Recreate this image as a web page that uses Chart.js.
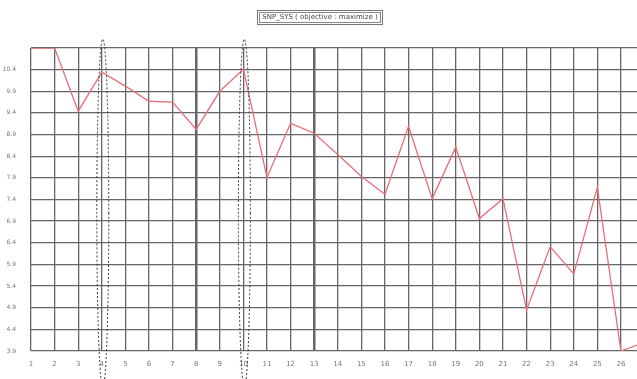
<!DOCTYPE html>
<html>
<head>
<meta charset="utf-8">
<script src="https://cdn.jsdelivr.net/npm/chart.js@4"></script>
<style>
  html, body { margin: 0; padding: 0; background: #fff; overflow: hidden; }
  #wrap { position: relative; width: 637px; height: 379px; }
</style>
</head>
<body>
<div id="wrap"><canvas id="snpChart"></canvas></div>
<script>
// runs 1..27 (27 is cut off at the right edge of the plot)
var categories = [1, 2, 3, 4, 5, 6, 7, 8, 9, 10, 11, 12, 13, 14, 15, 16, 17, 18, 19, 20, 21, 22, 23, 24, 25, 26, 27]
var snpValues = [10.9, 10.9, 9.44, 10.34, 10.02, 9.67, 9.65, 9.02, 9.9, 10.41, 7.91, 9.16, 8.93, 8.44, 7.93, 7.52, 9.09, 7.42, 8.61, 6.96, 7.42, 4.85, 6.31, 5.68, 7.68, 3.9, 4.1]
var yTicks = [3.9, 4.4, 4.9, 5.4, 5.9, 6.4, 6.9, 7.4, 7.9, 8.4, 8.9, 9.4, 9.9, 10.4, 10.9]
var xTicks = [1, 2, 3, 4, 5, 6, 7, 8, 9, 10, 11, 12, 13, 14, 15, 16, 17, 18, 19, 20, 21, 22, 23, 24, 25, 26]
var markedRuns = [4, 10]
var chartTitle = 'SNP_SYS ( objective : maximize )'

var thickLines = [8, 13]

// boxed title + dotted ellipses around the marked runs
var decorations = {
  id: 'decorations',
  afterDraw: function (chart) {
    var ctx = chart.ctx
    var x = chart.scales.x
    var area = chart.chartArea
    ctx.save()
    ctx.font = '7px "DejaVu Sans", sans-serif'
    ctx.fillStyle = '#444'
    ctx.textAlign = 'center'
    ctx.textBaseline = 'middle'
    var cx = 320
    var w = ctx.measureText(chartTitle).width
    ctx.fillText(chartTitle, cx, 17)
    ctx.strokeStyle = '#777'
    ctx.lineWidth = 1
    ctx.strokeRect(Math.round(cx - w / 2 - 5) + 0.5, 10.5, Math.round(w + 10), 14)
    ctx.strokeStyle = '#888'
    ctx.strokeRect(Math.round(cx - w / 2 - 3) + 0.5, 12.5, Math.round(w + 6), 10)

    ctx.setLineDash([2, 2])
    ctx.strokeStyle = '#333'
    var top = area.top - 9
    var bottom = chart.height + 8
    markedRuns.forEach(function (r) {
      var px = x.getPixelForValue(r) + 1
      ctx.beginPath()
      ctx.ellipse(px, (top + bottom) / 2, 6, (bottom - top) / 2, 0, 0, Math.PI * 2)
      ctx.stroke()
    })
    ctx.restore()
  }
}

new Chart(document.getElementById('snpChart'), {
  type: 'line',
  data: {
    datasets: [{
      data: categories.map(function (c, i) { return {x: c, y: snpValues[i]} }),
      borderColor: 'rgb(232, 110, 120)',
      borderWidth: 1.3,
      pointRadius: 0,
      tension: 0,
      fill: false
    }]
  },
  options: {
    responsive: true,
    maintainAspectRatio: false,
    animation: false,
    layout: {padding: {top: 48, right: 0, left: 0, bottom: 0}},
    plugins: {
      legend: {display: false},
      title: {display: false},
      tooltip: {enabled: false}
    },
    scales: {
      x: {
        type: 'linear',
        min: 1,
        max: 26.68,
        afterBuildTicks: function (scale) {
          scale.ticks = xTicks.map(function (v) { return {value: v} })
        },
        afterFit: function (scale) { scale.height = 28 },
        border: {display: false},
        grid: {
          color: '#666',
          lineWidth: function (c) { return thickLines.indexOf(c.tick && c.tick.value) >= 0 ? 2.5 : 1.3 },
          drawTicks: false
        },
        ticks: {
          color: '#777',
          font: {size: 7, family: 'DejaVu Sans'},
          padding: 9,
          maxRotation: 0,
          autoSkip: false,
          callback: function (v) { return String(v) }
        }
      },
      y: {
        type: 'linear',
        min: 3.9,
        max: 10.9,
        afterBuildTicks: function (scale) {
          scale.ticks = yTicks.map(function (v) { return {value: v} })
        },
        afterFit: function (scale) { scale.width = 31 },
        border: {display: false},
        grid: {color: '#666', lineWidth: 1.3, drawTicks: false},
        ticks: {
          color: '#777',
          font: {size: 6, family: 'DejaVu Sans'},
          padding: 15,
          autoSkip: false,
          callback: function (v) { return v > 10.8 ? '' : v.toFixed(1) }
        }
      }
    }
  },
  plugins: [decorations]
})
</script>
</body>
</html>
